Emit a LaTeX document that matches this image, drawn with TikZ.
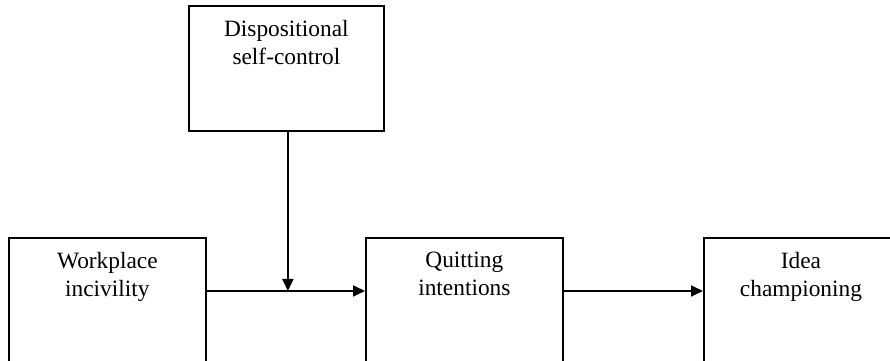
\documentclass[tikz,border=0pt]{standalone}
\usepackage{fontspec}
\setmainfont{Liberation Serif}
\usetikzlibrary{arrows.meta}
\begin{document}
\begin{tikzpicture}[
  box/.style={draw, line width=1pt, minimum width=3.94cm, minimum height=3.0cm,
              anchor=north west, inner sep=0pt},
  lbl/.style={anchor=north, align=center, inner sep=0pt,
              font=\fontsize{13.3}{16}\selectfont},
  arr/.style={-{Triangle[length=2.4mm, width=2.2mm]}, line width=1pt},
]
  \useasboundingbox (0,0) rectangle (17.8,7.22);
  \clip (0,0) rectangle (17.8,7.22);

  \node[box, minimum width=3.9cm, minimum height=2.5cm] (dsc) at (3.76,7.12) {};
  \node[box] (wp) at (0.16,2.48) {};
  \node[box] (qi) at (7.30,2.48) {};
  \node[box, minimum width=6cm] (ic) at (14.06,2.48) {};

  \node[lbl] (dscl) at ([yshift=-0.3cm]dsc.north) {Dispositional\\self-control};
  \node[lbl] (wpl) at ([yshift=-0.3cm]wp.north) {Workplace\\incivility};
  \node[lbl] (qil) at ([yshift=-0.3cm]qi.north) {Quitting\\intentions};
  \node[lbl] (icl) at ([yshift=-0.3cm]ic.north west) [xshift=1.96cm] {Idea\\championing};

  \coordinate (mid) at ([xshift=0.03cm]dsc.south |- 0,1.40);
  \draw[arr] (wp.north east |- mid) -- (qi.north west |- mid);
  \draw[arr] (qi.north east |- mid) -- (ic.north west |- mid);
  \draw[arr] (dsc.south -| mid) -- (mid);
\end{tikzpicture}
\end{document}
